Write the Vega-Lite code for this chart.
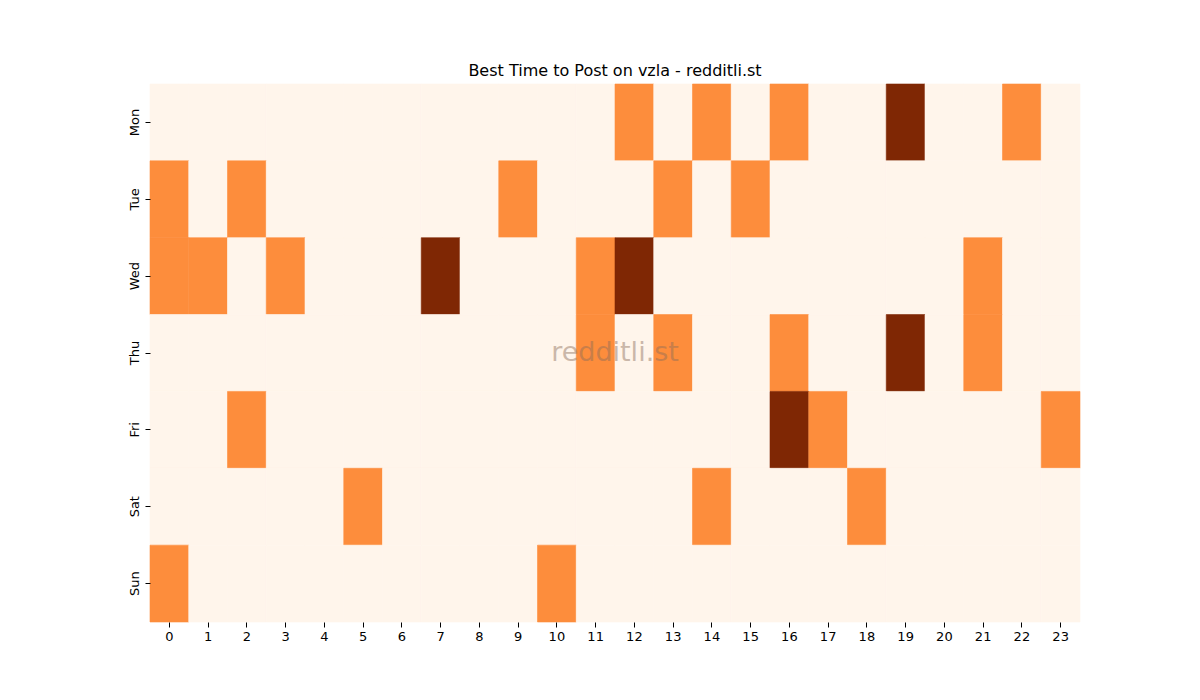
{
  "$schema": "https://vega.github.io/schema/vega-lite/v6.json",
  "width": 930,
  "height": 538,
  "autosize": {"type": "none"},
  "padding": {"left": 150, "top": 84, "right": 120, "bottom": 78},
  "background": "white",
  "config": {
    "font": "DejaVu Sans",
    "view": {"stroke": null},
    "title": {"fontSize": 16, "fontWeight": "normal", "color": "black", "offset": 5}
  },
  "title": "Best Time to Post on vzla - redditli.st",
  "layer": [
    {
      "data": {
        "values": [
          {"d":"Mon","h":0,"v":0},{"d":"Mon","h":1,"v":0},{"d":"Mon","h":2,"v":0},{"d":"Mon","h":3,"v":0},{"d":"Mon","h":4,"v":0},{"d":"Mon","h":5,"v":0},{"d":"Mon","h":6,"v":0},{"d":"Mon","h":7,"v":0},{"d":"Mon","h":8,"v":0},{"d":"Mon","h":9,"v":0},{"d":"Mon","h":10,"v":0},{"d":"Mon","h":11,"v":0},{"d":"Mon","h":12,"v":1},{"d":"Mon","h":13,"v":0},{"d":"Mon","h":14,"v":1},{"d":"Mon","h":15,"v":0},{"d":"Mon","h":16,"v":1},{"d":"Mon","h":17,"v":0},{"d":"Mon","h":18,"v":0},{"d":"Mon","h":19,"v":2},{"d":"Mon","h":20,"v":0},{"d":"Mon","h":21,"v":0},{"d":"Mon","h":22,"v":1},{"d":"Mon","h":23,"v":0},
          {"d":"Tue","h":0,"v":1},{"d":"Tue","h":1,"v":0},{"d":"Tue","h":2,"v":1},{"d":"Tue","h":3,"v":0},{"d":"Tue","h":4,"v":0},{"d":"Tue","h":5,"v":0},{"d":"Tue","h":6,"v":0},{"d":"Tue","h":7,"v":0},{"d":"Tue","h":8,"v":0},{"d":"Tue","h":9,"v":1},{"d":"Tue","h":10,"v":0},{"d":"Tue","h":11,"v":0},{"d":"Tue","h":12,"v":0},{"d":"Tue","h":13,"v":1},{"d":"Tue","h":14,"v":0},{"d":"Tue","h":15,"v":1},{"d":"Tue","h":16,"v":0},{"d":"Tue","h":17,"v":0},{"d":"Tue","h":18,"v":0},{"d":"Tue","h":19,"v":0},{"d":"Tue","h":20,"v":0},{"d":"Tue","h":21,"v":0},{"d":"Tue","h":22,"v":0},{"d":"Tue","h":23,"v":0},
          {"d":"Wed","h":0,"v":1},{"d":"Wed","h":1,"v":1},{"d":"Wed","h":2,"v":0},{"d":"Wed","h":3,"v":1},{"d":"Wed","h":4,"v":0},{"d":"Wed","h":5,"v":0},{"d":"Wed","h":6,"v":0},{"d":"Wed","h":7,"v":2},{"d":"Wed","h":8,"v":0},{"d":"Wed","h":9,"v":0},{"d":"Wed","h":10,"v":0},{"d":"Wed","h":11,"v":1},{"d":"Wed","h":12,"v":2},{"d":"Wed","h":13,"v":0},{"d":"Wed","h":14,"v":0},{"d":"Wed","h":15,"v":0},{"d":"Wed","h":16,"v":0},{"d":"Wed","h":17,"v":0},{"d":"Wed","h":18,"v":0},{"d":"Wed","h":19,"v":0},{"d":"Wed","h":20,"v":0},{"d":"Wed","h":21,"v":1},{"d":"Wed","h":22,"v":0},{"d":"Wed","h":23,"v":0},
          {"d":"Thu","h":0,"v":0},{"d":"Thu","h":1,"v":0},{"d":"Thu","h":2,"v":0},{"d":"Thu","h":3,"v":0},{"d":"Thu","h":4,"v":0},{"d":"Thu","h":5,"v":0},{"d":"Thu","h":6,"v":0},{"d":"Thu","h":7,"v":0},{"d":"Thu","h":8,"v":0},{"d":"Thu","h":9,"v":0},{"d":"Thu","h":10,"v":0},{"d":"Thu","h":11,"v":1},{"d":"Thu","h":12,"v":0},{"d":"Thu","h":13,"v":1},{"d":"Thu","h":14,"v":0},{"d":"Thu","h":15,"v":0},{"d":"Thu","h":16,"v":1},{"d":"Thu","h":17,"v":0},{"d":"Thu","h":18,"v":0},{"d":"Thu","h":19,"v":2},{"d":"Thu","h":20,"v":0},{"d":"Thu","h":21,"v":1},{"d":"Thu","h":22,"v":0},{"d":"Thu","h":23,"v":0},
          {"d":"Fri","h":0,"v":0},{"d":"Fri","h":1,"v":0},{"d":"Fri","h":2,"v":1},{"d":"Fri","h":3,"v":0},{"d":"Fri","h":4,"v":0},{"d":"Fri","h":5,"v":0},{"d":"Fri","h":6,"v":0},{"d":"Fri","h":7,"v":0},{"d":"Fri","h":8,"v":0},{"d":"Fri","h":9,"v":0},{"d":"Fri","h":10,"v":0},{"d":"Fri","h":11,"v":0},{"d":"Fri","h":12,"v":0},{"d":"Fri","h":13,"v":0},{"d":"Fri","h":14,"v":0},{"d":"Fri","h":15,"v":0},{"d":"Fri","h":16,"v":2},{"d":"Fri","h":17,"v":1},{"d":"Fri","h":18,"v":0},{"d":"Fri","h":19,"v":0},{"d":"Fri","h":20,"v":0},{"d":"Fri","h":21,"v":0},{"d":"Fri","h":22,"v":0},{"d":"Fri","h":23,"v":1},
          {"d":"Sat","h":0,"v":0},{"d":"Sat","h":1,"v":0},{"d":"Sat","h":2,"v":0},{"d":"Sat","h":3,"v":0},{"d":"Sat","h":4,"v":0},{"d":"Sat","h":5,"v":1},{"d":"Sat","h":6,"v":0},{"d":"Sat","h":7,"v":0},{"d":"Sat","h":8,"v":0},{"d":"Sat","h":9,"v":0},{"d":"Sat","h":10,"v":0},{"d":"Sat","h":11,"v":0},{"d":"Sat","h":12,"v":0},{"d":"Sat","h":13,"v":0},{"d":"Sat","h":14,"v":1},{"d":"Sat","h":15,"v":0},{"d":"Sat","h":16,"v":0},{"d":"Sat","h":17,"v":0},{"d":"Sat","h":18,"v":1},{"d":"Sat","h":19,"v":0},{"d":"Sat","h":20,"v":0},{"d":"Sat","h":21,"v":0},{"d":"Sat","h":22,"v":0},{"d":"Sat","h":23,"v":0},
          {"d":"Sun","h":0,"v":1},{"d":"Sun","h":1,"v":0},{"d":"Sun","h":2,"v":0},{"d":"Sun","h":3,"v":0},{"d":"Sun","h":4,"v":0},{"d":"Sun","h":5,"v":0},{"d":"Sun","h":6,"v":0},{"d":"Sun","h":7,"v":0},{"d":"Sun","h":8,"v":0},{"d":"Sun","h":9,"v":0},{"d":"Sun","h":10,"v":1},{"d":"Sun","h":11,"v":0},{"d":"Sun","h":12,"v":0},{"d":"Sun","h":13,"v":0},{"d":"Sun","h":14,"v":0},{"d":"Sun","h":15,"v":0},{"d":"Sun","h":16,"v":0},{"d":"Sun","h":17,"v":0},{"d":"Sun","h":18,"v":0},{"d":"Sun","h":19,"v":0},{"d":"Sun","h":20,"v":0},{"d":"Sun","h":21,"v":0},{"d":"Sun","h":22,"v":0},{"d":"Sun","h":23,"v":0}
        ]
      },
      "mark": {"type": "rect", "strokeWidth": 0.6},
      "encoding": {
        "x": {
          "field": "h",
          "type": "ordinal",
          "title": null,
          "scale": {"paddingInner": 0, "paddingOuter": 0},
          "axis": {"labelAngle": 0, "domain": false, "grid": false, "tickColor": "black", "tickSize": 5, "labelColor": "black", "labelFontSize": 13, "labelPadding": 3}
        },
        "y": {
          "field": "d",
          "type": "ordinal",
          "title": null,
          "sort": ["Mon", "Tue", "Wed", "Thu", "Fri", "Sat", "Sun"],
          "scale": {"paddingInner": 0, "paddingOuter": 0},
          "axis": {"labelAngle": -90, "labelAlign": "center", "labelBaseline": "bottom", "domain": false, "grid": false, "tickColor": "black", "tickSize": 5, "labelColor": "black", "labelFontSize": 13, "labelPadding": 4}
        },
        "color": {
          "field": "v",
          "type": "quantitative",
          "legend": null,
          "scale": {"domain": [0, 1, 2], "range": ["#fff5eb", "#fd8d3c", "#7f2704"]}
        },
        "stroke": {
          "field": "v",
          "type": "quantitative",
          "legend": null,
          "scale": {"domain": [0, 1, 2], "range": ["#fff5eb", "#fd8d3c", "#7f2704"]}
        }
      }
    },
    {
      "data": {"values": [{"t": "redditli.st"}]},
      "mark": {"type": "text", "fontSize": 27, "color": "#8c6e5a", "opacity": 0.45, "align": "center", "baseline": "middle"},
      "encoding": {"text": {"field": "t"}}
    }
  ]
}
